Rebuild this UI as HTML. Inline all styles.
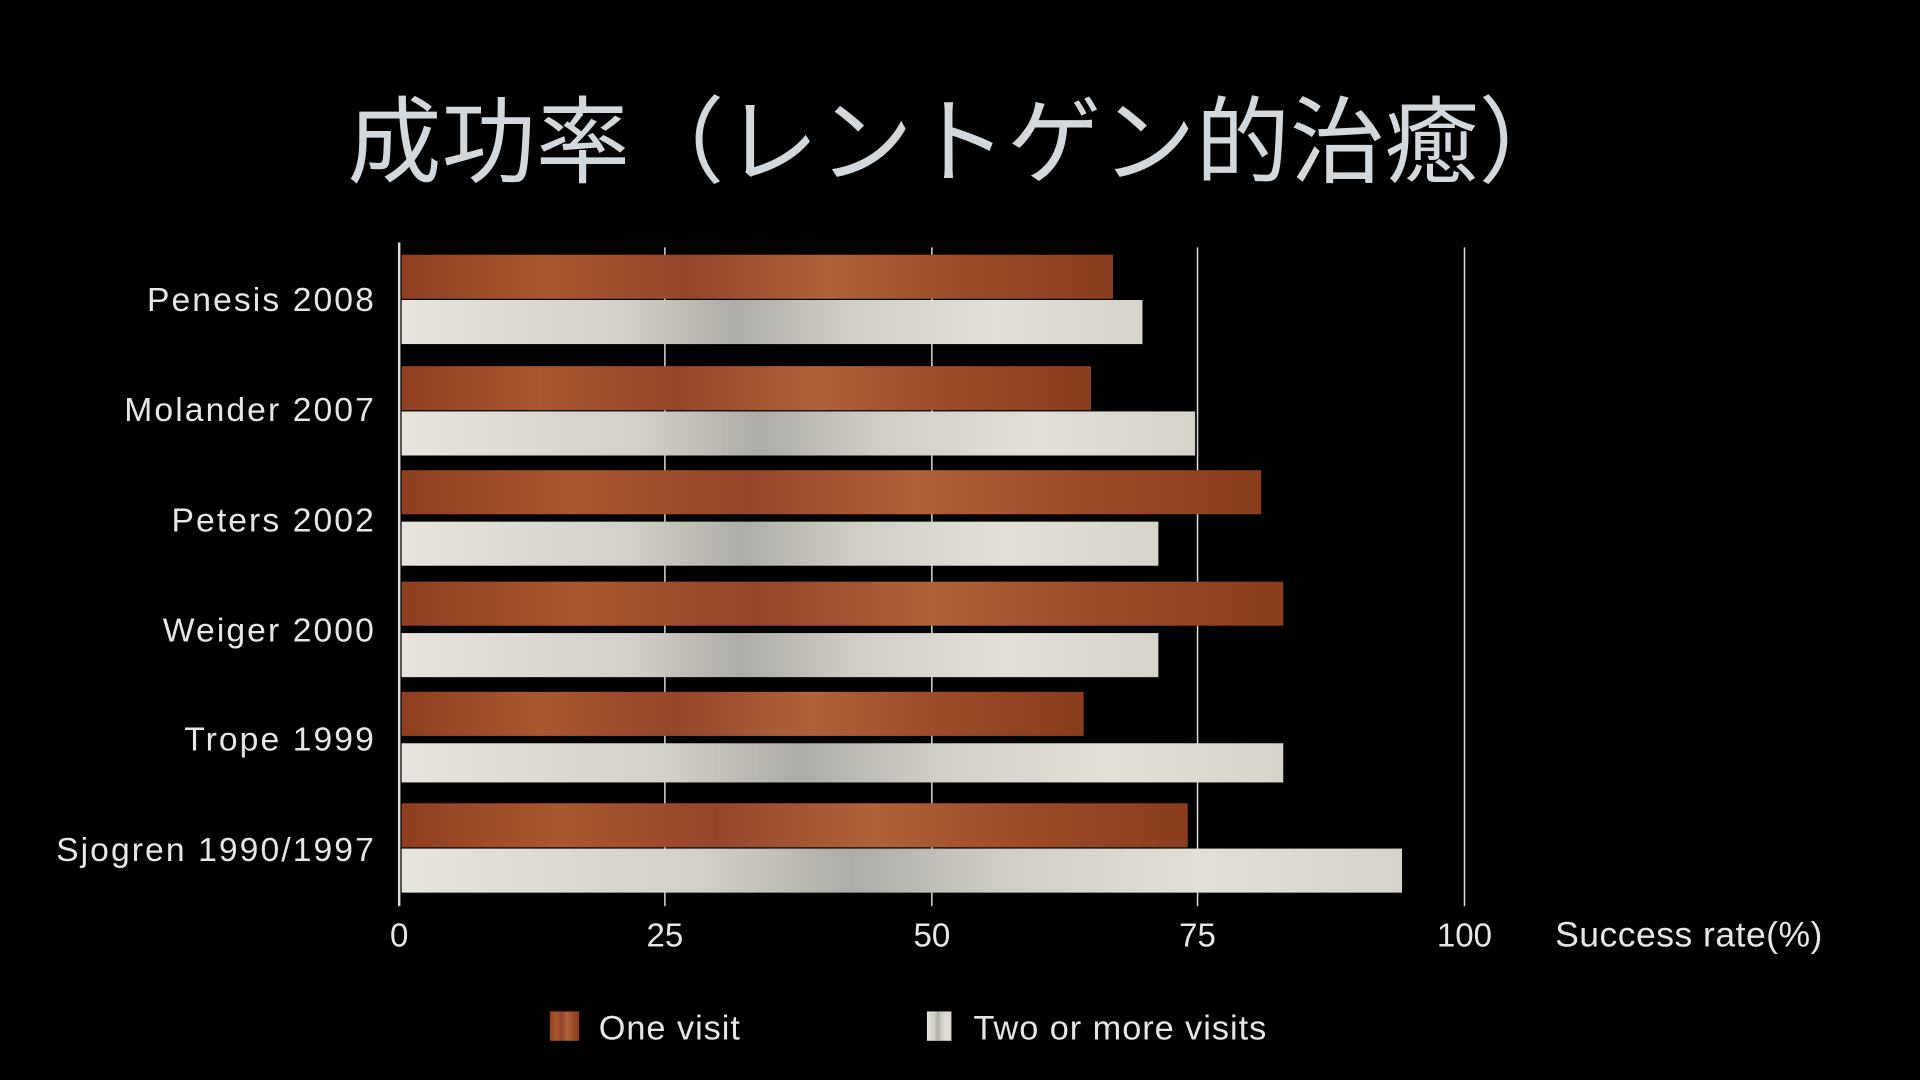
<!DOCTYPE html>
<html><head><meta charset="utf-8"><style>
html,body{margin:0;padding:0;background:#000;width:1920px;height:1080px;overflow:hidden}
svg{display:block}
text{font-family:"Liberation Sans","Noto Sans CJK JP",sans-serif}
</style></head><body>
<svg width="1920" height="1080" viewBox="0 0 1568 882" xmlns="http://www.w3.org/2000/svg">
<defs>
<linearGradient id="br" x1="0" y1="0" x2="1" y2="0">
<stop offset="0" stop-color="#8e3f1f"/><stop offset="0.2" stop-color="#a9572f"/>
<stop offset="0.4" stop-color="#95462a"/><stop offset="0.6" stop-color="#b0623a"/>
<stop offset="0.8" stop-color="#9a4a26"/><stop offset="1" stop-color="#8a3d1e"/>
</linearGradient>
<linearGradient id="wh" x1="0" y1="0" x2="1" y2="0">
<stop offset="0" stop-color="#e6e4dc"/><stop offset="0.3" stop-color="#d2d0c8"/>
<stop offset="0.45" stop-color="#aeaca6"/><stop offset="0.6" stop-color="#cfcdc6"/>
<stop offset="0.8" stop-color="#e2e0d6"/><stop offset="1" stop-color="#d6d4ca"/>
</linearGradient>
</defs>
<text x="784" y="143" fill="#d3d8dd" font-size="77" text-anchor="middle">成功率（レントゲン的治癒）</text>
<g stroke="#ddd" stroke-width="1.2">
<line x1="543" y1="202" x2="543" y2="740"/>
<line x1="761" y1="202" x2="761" y2="740"/>
<line x1="978" y1="202" x2="978" y2="740"/>
<line x1="1196" y1="202" x2="1196" y2="740"/>
<line x1="326" y1="198" x2="326" y2="740" stroke-width="2"/>
</g>
<g>
<rect x="328" y="208" width="581" height="36" fill="url(#br)"/>
<rect x="328" y="245" width="605" height="36" fill="url(#wh)"/>
<rect x="328" y="299" width="563" height="36" fill="url(#br)"/>
<rect x="328" y="336" width="648" height="36" fill="url(#wh)"/>
<rect x="328" y="384" width="702" height="36" fill="url(#br)"/>
<rect x="328" y="426" width="618" height="36" fill="url(#wh)"/>
<rect x="328" y="475" width="720" height="36" fill="url(#br)"/>
<rect x="328" y="517" width="618" height="36" fill="url(#wh)"/>
<rect x="328" y="565" width="557" height="36" fill="url(#br)"/>
<rect x="328" y="607" width="720" height="32" fill="url(#wh)"/>
<rect x="328" y="656" width="642" height="36" fill="url(#br)"/>
<rect x="328" y="693" width="817" height="36" fill="url(#wh)"/>
</g>
<g fill="#e4e6ea" font-size="27.5" letter-spacing="1.7" text-anchor="end">
<text x="307" y="254">Penesis 2008</text>
<text x="307" y="344">Molander 2007</text>
<text x="307" y="434">Peters 2002</text>
<text x="307" y="524">Weiger 2000</text>
<text x="307" y="613">Trope 1999</text>
<text x="307" y="703">Sjogren 1990/1997</text>
</g>
<g fill="#e4e6ea" font-size="27" text-anchor="middle">
<text x="326" y="773">0</text>
<text x="543" y="773">25</text>
<text x="761" y="773">50</text>
<text x="978" y="773">75</text>
<text x="1196" y="773">100</text>
</g>
<text x="1270" y="773" fill="#e4e6ea" font-size="29" letter-spacing="0.4">Success rate(%)</text>
<rect x="449" y="826" width="24" height="24" fill="url(#br)"/>
<text x="489" y="849" fill="#e4e6ea" font-size="28" letter-spacing="0.8">One visit</text>
<rect x="757" y="826" width="20" height="24" fill="url(#wh)"/>
<text x="795" y="849" fill="#e4e6ea" font-size="28" letter-spacing="0.8">Two or more visits</text>
</svg>
</body></html>
